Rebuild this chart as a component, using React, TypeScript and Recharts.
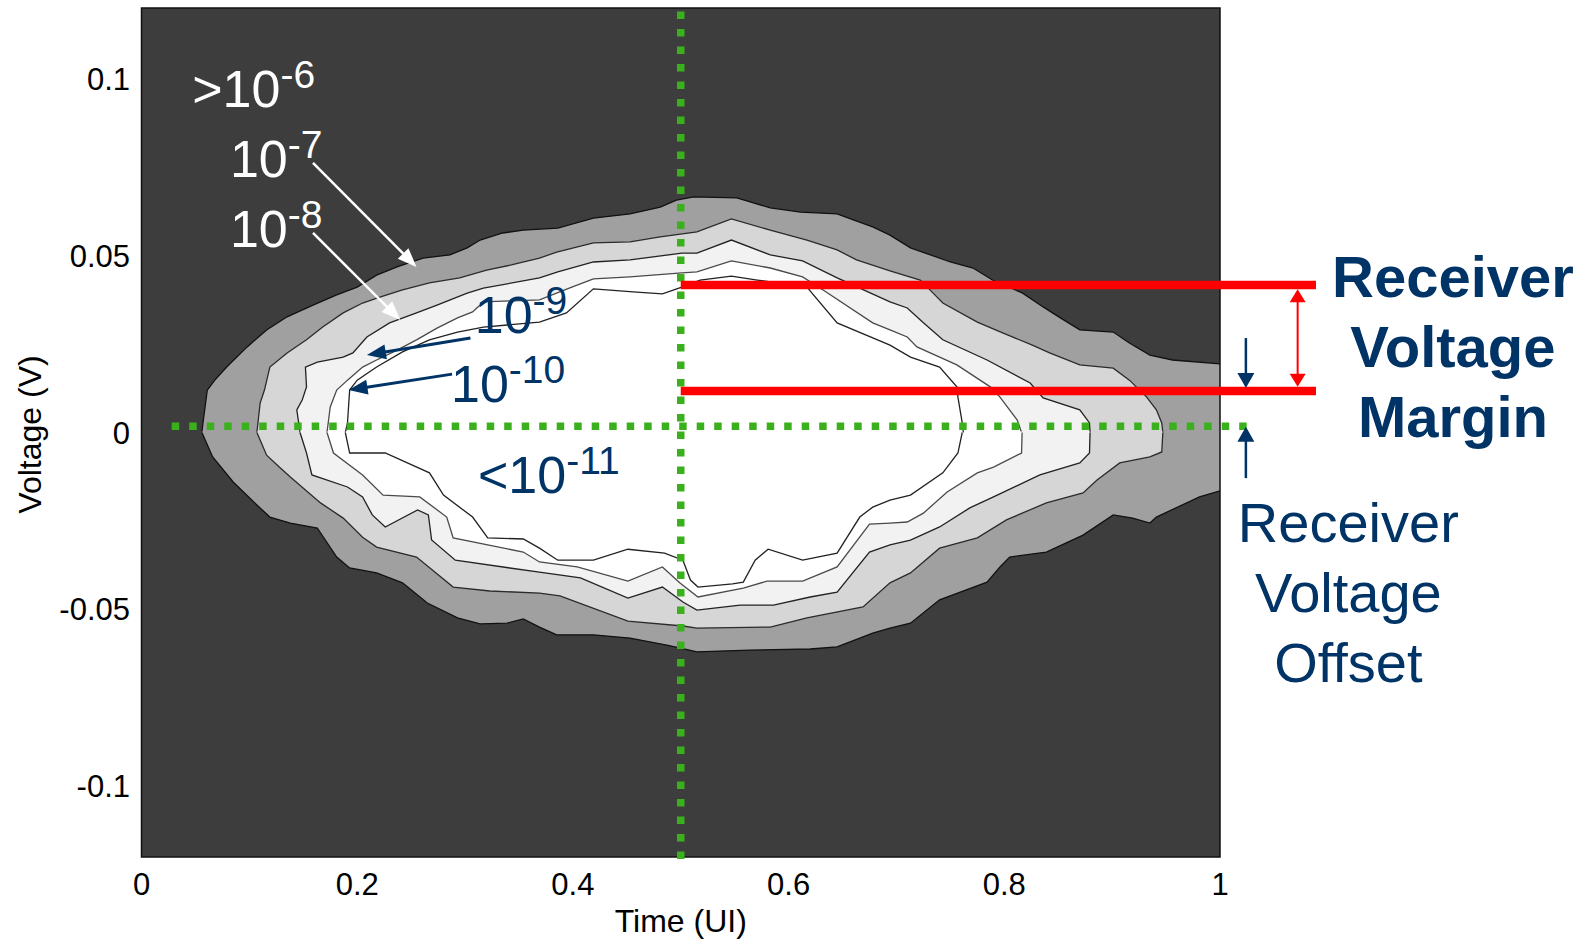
import {
  ComposedChart,
  Area,
  XAxis,
  YAxis,
  CartesianGrid,
  ReferenceArea,
  ReferenceLine,
  ReferenceDot,
} from "recharts"

type Pt = [number, number]

// Bathtub/eye contours, [time (UI), voltage (V)]. Each contour is split into a
// top and a bottom half that meet at 0 V.
const ber6Top: Pt[] = [
  [0.056, 0], [0.057, 0.0027], [0.061, 0.012], [0.068, 0.0148], [0.079, 0.0185],
  [0.098, 0.0242], [0.116, 0.029], [0.135, 0.0327], [0.159, 0.036], [0.181, 0.0389],
  [0.2, 0.0411], [0.218, 0.0445], [0.237, 0.0468], [0.261, 0.0493], [0.286, 0.0502],
  [0.302, 0.0522], [0.314, 0.0544], [0.335, 0.0564], [0.354, 0.0572], [0.386, 0.0578],
  [0.419, 0.0606], [0.453, 0.0618], [0.481, 0.0637], [0.496, 0.0657], [0.512, 0.0666],
  [0.552, 0.0663], [0.583, 0.0635], [0.611, 0.0623], [0.645, 0.0618], [0.66, 0.0601],
  [0.678, 0.0581], [0.694, 0.0558], [0.713, 0.0522], [0.75, 0.0482], [0.771, 0.0465],
  [0.789, 0.0431], [0.817, 0.0394], [0.836, 0.0355], [0.852, 0.0324], [0.87, 0.029],
  [0.901, 0.0284], [0.916, 0.0253], [0.935, 0.0219], [0.956, 0.0205], [1, 0.0194],
]
const ber6Bottom: Pt[] = [
  [0.056, 0], [0.066, -0.0069], [0.085, -0.014], [0.107, -0.0205], [0.119, -0.0239],
  [0.138, -0.0256], [0.163, -0.027], [0.181, -0.0352], [0.193, -0.0383], [0.218, -0.0397],
  [0.242, -0.0425], [0.265, -0.0482], [0.293, -0.0524], [0.314, -0.0541], [0.339, -0.0539],
  [0.354, -0.0527], [0.369, -0.055], [0.385, -0.0572], [0.419, -0.0572], [0.453, -0.0581],
  [0.487, -0.0601], [0.499, -0.0609], [0.515, -0.062], [0.564, -0.0615], [0.62, -0.0612],
  [0.645, -0.0606], [0.678, -0.0567], [0.694, -0.0553], [0.713, -0.0539], [0.74, -0.0473],
  [0.784, -0.0423], [0.796, -0.038], [0.805, -0.0352], [0.839, -0.0338], [0.873, -0.029],
  [0.901, -0.0233], [0.919, -0.0242], [0.935, -0.0256], [0.941, -0.0239], [0.981, -0.0182],
  [1, -0.0165],
]

const ber7Top: Pt[] = [
  [0.107, 0], [0.11, 0.0083], [0.114, 0.012], [0.119, 0.0185], [0.135, 0.0225],
  [0.153, 0.0262], [0.168, 0.0298], [0.187, 0.0338], [0.205, 0.0366], [0.221, 0.0383],
  [0.242, 0.0403], [0.267, 0.0423], [0.295, 0.0437], [0.32, 0.0459], [0.342, 0.0473],
  [0.369, 0.0493], [0.385, 0.051], [0.419, 0.0536], [0.453, 0.0539], [0.481, 0.0553],
  [0.515, 0.0567], [0.547, 0.0604], [0.583, 0.0572], [0.617, 0.0544], [0.645, 0.0516],
  [0.663, 0.0488], [0.694, 0.0457], [0.722, 0.0431], [0.734, 0.0394], [0.743, 0.0366],
  [0.775, 0.0312], [0.799, 0.0281], [0.826, 0.0247], [0.842, 0.0225], [0.87, 0.0191],
  [0.901, 0.0182], [0.916, 0.0148], [0.932, 0.01], [0.941, 0.0064], [0.946, 0.0027],
  [0.947, 0],
]
const ber7Bottom: Pt[] = [
  [0.107, 0], [0.11, -0.0021], [0.116, -0.0064], [0.128, -0.0098], [0.138, -0.0126],
  [0.166, -0.0199], [0.187, -0.0242], [0.205, -0.0296], [0.218, -0.0324], [0.255, -0.0352],
  [0.289, -0.0437], [0.323, -0.0448], [0.369, -0.0454], [0.388, -0.0462], [0.451, -0.0533],
  [0.502, -0.0547], [0.515, -0.0553], [0.583, -0.055], [0.617, -0.0524], [0.669, -0.0493],
  [0.694, -0.0425], [0.713, -0.0397], [0.74, -0.0327], [0.775, -0.0298], [0.802, -0.0247],
  [0.839, -0.0199], [0.873, -0.0171], [0.886, -0.0134], [0.907, -0.0086], [0.935, -0.0069],
  [0.946, -0.0055], [0.947, 0],
]

const ber8Top: Pt[] = [
  [0.147, 0], [0.144, 0.0064], [0.149, 0.0092], [0.153, 0.0129], [0.152, 0.0185],
  [0.163, 0.0199], [0.187, 0.0213], [0.196, 0.0225], [0.209, 0.027], [0.23, 0.031],
  [0.255, 0.0338], [0.274, 0.036], [0.302, 0.0394], [0.317, 0.0408], [0.369, 0.0437],
  [0.386, 0.0454], [0.419, 0.0482], [0.453, 0.0488], [0.501, 0.0507], [0.515, 0.0507],
  [0.547, 0.0544], [0.583, 0.0502], [0.613, 0.0485], [0.645, 0.0437], [0.694, 0.0369],
  [0.71, 0.0352], [0.725, 0.031], [0.743, 0.0262], [0.784, 0.0205], [0.824, 0.014],
  [0.836, 0.0098], [0.87, 0.0064], [0.879, 0.0027], [0.8795, 0],
]
const ber8Bottom: Pt[] = [
  [0.147, 0], [0.153, -0.0058], [0.158, -0.012], [0.191, -0.0154], [0.205, -0.0182],
  [0.214, -0.0233], [0.226, -0.0267], [0.256, -0.0219], [0.266, -0.0233], [0.269, -0.0304],
  [0.291, -0.0361], [0.369, -0.0395], [0.407, -0.0411], [0.451, -0.0468], [0.483, -0.0437],
  [0.502, -0.0479], [0.515, -0.0502], [0.555, -0.0488], [0.586, -0.0488], [0.62, -0.0465],
  [0.645, -0.0451], [0.675, -0.0338], [0.694, -0.0318], [0.713, -0.0304], [0.74, -0.0267],
  [0.768, -0.0213], [0.79, -0.0182], [0.833, -0.012], [0.87, -0.0086], [0.879, -0.0058],
  [0.8795, 0],
]

const ber9Top: Pt[] = [
  [0.172, 0], [0.175, 0.0072], [0.181, 0.012], [0.191, 0.0148], [0.205, 0.0185],
  [0.218, 0.0205], [0.237, 0.0233], [0.255, 0.0262], [0.274, 0.0295], [0.293, 0.0324],
  [0.307, 0.0341], [0.317, 0.0369], [0.369, 0.0375], [0.399, 0.0411], [0.419, 0.0434],
  [0.453, 0.044], [0.501, 0.0451], [0.515, 0.0454], [0.547, 0.0485], [0.583, 0.0465],
  [0.613, 0.044], [0.632, 0.0403], [0.678, 0.031], [0.694, 0.029], [0.71, 0.027],
  [0.719, 0.0242], [0.756, 0.0191], [0.787, 0.0129], [0.796, 0.01], [0.812, 0.0035],
  [0.816, 0],
]
const ber9Bottom: Pt[] = [
  [0.172, 0], [0.178, -0.0058], [0.205, -0.012], [0.224, -0.0177], [0.258, -0.0182],
  [0.283, -0.0239], [0.289, -0.0298], [0.354, -0.0338], [0.369, -0.0366], [0.404, -0.038],
  [0.451, -0.042], [0.483, -0.038], [0.499, -0.0425], [0.516, -0.0465], [0.558, -0.044],
  [0.58, -0.042], [0.613, -0.042], [0.645, -0.038], [0.675, -0.0259], [0.694, -0.0256],
  [0.71, -0.0253], [0.725, -0.0228], [0.747, -0.0168], [0.775, -0.0114], [0.79, -0.0098],
  [0.816, -0.0058], [0.8165, 0],
]

const ber10Top: Pt[] = [
  [0.189, 0], [0.191, 0.0027], [0.193, 0.012], [0.2, 0.0148], [0.218, 0.0185],
  [0.242, 0.0228], [0.267, 0.0262], [0.293, 0.0284], [0.317, 0.0298], [0.369, 0.0312],
  [0.394, 0.0338], [0.419, 0.0406], [0.459, 0.0397], [0.483, 0.0392], [0.501, 0.0411],
  [0.518, 0.0431], [0.547, 0.0442], [0.571, 0.0431], [0.617, 0.0411], [0.645, 0.031],
  [0.694, 0.0247], [0.713, 0.0213], [0.74, 0.0185], [0.756, 0.0129], [0.757, 0.01],
  [0.761, 0.0027], [0.762, 0],
]
const ber10Bottom: Pt[] = [
  [0.189, 0], [0.193, -0.0058], [0.226, -0.0058], [0.267, -0.0114], [0.28, -0.0177],
  [0.307, -0.0239], [0.321, -0.0298], [0.354, -0.0301], [0.369, -0.0327], [0.386, -0.0361],
  [0.419, -0.0361], [0.451, -0.033], [0.485, -0.0341], [0.502, -0.0361], [0.509, -0.0417],
  [0.516, -0.0437], [0.548, -0.0428], [0.558, -0.0423], [0.569, -0.0361], [0.581, -0.033],
  [0.613, -0.0361], [0.645, -0.0341], [0.666, -0.0239], [0.678, -0.0211], [0.694, -0.0191],
  [0.713, -0.0177], [0.743, -0.0114], [0.757, -0.0058], [0.761, 0],
]

const timeTicks = [0, 0.2, 0.4, 0.6, 0.8, 1]
const voltTicks = [-0.1, -0.05, 0, 0.05, 0.1]

// receiver sampling point and thresholds
const samplePhase = 0.5
const offsetLevel = 0.0018
const marginHigh = 0.0417
const marginLow = 0.0117

const FONT = '"Liberation Sans", Arial, Helvetica, sans-serif'
const NAVY = "#003366"
const GREEN = "#3bb01d"
const RED = "#ff0000"

const contours = [
  { top: ber6Top, bottom: ber6Bottom, fill: "#a0a0a0", line: "#111" },
  { top: ber7Top, bottom: ber7Bottom, fill: "#d6d6d6", line: "#2b2b2b" },
  { top: ber8Top, bottom: ber8Bottom, fill: "#f2f2f2", line: "#222" },
  { top: ber9Top, bottom: ber9Bottom, fill: "#ffffff", line: "#4a4a4a" },
  { top: ber10Top, bottom: ber10Bottom, fill: "#ffffff", line: "#222" },
]

const berLabels = [
  { pre: ">", exp: "-6", t: 0.047, v: 0.092, color: "#fff" },
  { pre: "", exp: "-7", t: 0.082, v: 0.0722, color: "#fff" },
  { pre: "", exp: "-8", t: 0.082, v: 0.0523, color: "#fff" },
  { pre: "", exp: "-9", t: 0.309, v: 0.0281, color: NAVY },
  { pre: "", exp: "-10", t: 0.287, v: 0.0086, color: NAVY },
  { pre: "<", exp: "-11", t: 0.312, v: -0.0171, color: NAVY },
]

const pointers = [
  { from: [0.159, 0.0762], to: [0.255, 0.0468], color: "#fff" },
  { from: [0.159, 0.0564], to: [0.24, 0.0318], color: "#fff" },
  { from: [0.305, 0.0267], to: [0.209, 0.0219], color: NAVY },
  { from: [0.288, 0.0165], to: [0.192, 0.012], color: NAVY },
]

const toRows = (pts: Pt[]) => pts.map(([t, v]) => ({ t, v }))

function arrowShape(color: string, width: number, head: number, spread: number, both = false) {
  return (p: any) => {
    const { x1, y1, x2, y2 } = p
    const len = Math.hypot(x2 - x1, y2 - y1) || 1
    const ux = (x2 - x1) / len
    const uy = (y2 - y1) / len
    const nx = -uy
    const ny = ux
    const tri = (tx: number, ty: number, dir: number) => {
      const bx = tx - dir * ux * head
      const by = ty - dir * uy * head
      return `${tx},${ty} ${bx + (nx * spread) / 2},${by + (ny * spread) / 2} ${bx - (nx * spread) / 2},${by - (ny * spread) / 2}`
    }
    const sx = both ? x1 + ux * head * 0.8 : x1
    const sy = both ? y1 + uy * head * 0.8 : y1
    return (
      <g>
        <line
          x1={sx}
          y1={sy}
          x2={x2 - ux * head * 0.8}
          y2={y2 - uy * head * 0.8}
          stroke={color}
          strokeWidth={width}
        />
        <polygon points={tri(x2, y2, 1)} fill={color} />
        {both && <polygon points={tri(x1, y1, -1)} fill={color} />}
      </g>
    )
  }
}

function powerText(pre: string, exp: string, color: string) {
  return (p: any) => (
    <text x={p.cx} y={p.cy} fill={color} fontSize={52} fontFamily={FONT}>
      {pre}10
      <tspan dy={-19} fontSize={39}>
        {exp}
      </tspan>
    </text>
  )
}

function stackedText(lines: string[], size: number, weight: number) {
  return (p: any) => (
    <text
      x={p.cx}
      y={p.cy}
      fill={NAVY}
      fontSize={size}
      fontWeight={weight}
      fontFamily={FONT}
      textAnchor="middle"
    >
      {lines.map((s, i) => (
        <tspan key={s} x={p.cx} dy={i === 0 ? 0 : 70}>
          {s}
        </tspan>
      ))}
    </text>
  )
}

function VoltageTitle(props: any) {
  const vb = props.viewBox
  const cx = vb.x + 30
  const cy = vb.y + vb.height / 2 + 2
  return (
    <text
      x={cx}
      y={cy}
      transform={`rotate(-90 ${cx} ${cy})`}
      textAnchor="middle"
      dominantBaseline="central"
      fontSize={32}
      fill="#000"
      fontFamily={FONT}
    >
      Voltage (V)
    </text>
  )
}

export default function App() {
  return (
    <div
      style={{
        position: "absolute",
        left: 0,
        top: 0,
        width: 1585,
        height: 940,
        background: "#fff",
        fontFamily: FONT,
      }}
    >
      <ComposedChart
        width={1585}
        height={940}
        margin={{ top: 8, right: 365, bottom: 0, left: 0 }}
      >
        <CartesianGrid horizontal={false} vertical={false} fill="#3d3d3d" stroke="none" />
        <XAxis
          dataKey="t"
          type="number"
          domain={[0, 1]}
          ticks={timeTicks}
          allowDataOverflow
          axisLine={false}
          tickLine={false}
          tickSize={0}
          tickMargin={16}
          height={83}
          tick={{ fontSize: 31, fill: "#000" }}
          label={{
            value: "Time (UI)",
            position: "insideBottom",
            offset: 8,
            fontSize: 32,
            fill: "#000",
          }}
        />
        <YAxis
          type="number"
          domain={[-0.12, 0.12]}
          ticks={voltTicks}
          allowDataOverflow
          axisLine={false}
          tickLine={false}
          tickSize={0}
          tickMargin={11.5}
          width={141.5}
          tick={{ fontSize: 31, fill: "#000" }}
          label={VoltageTitle}
        />

        {contours.flatMap((c, i) => [
          <Area
            key={`top-${i}`}
            data={toRows(c.top)}
            dataKey="v"
            type="linear"
            baseValue={-0.0003}
            fill={c.fill}
            fillOpacity={1}
            stroke={c.line}
            strokeWidth={1.3}
            dot={false}
            activeDot={false}
            isAnimationActive={false}
          />,
          <Area
            key={`bottom-${i}`}
            data={toRows(c.bottom)}
            dataKey="v"
            type="linear"
            baseValue={0.0003}
            fill={c.fill}
            fillOpacity={1}
            stroke={c.line}
            strokeWidth={1.3}
            dot={false}
            activeDot={false}
            isAnimationActive={false}
          />,
        ])}

        <ReferenceArea
          x1={0}
          x2={1}
          y1={-0.12}
          y2={0.12}
          fill="none"
          fillOpacity={0}
          stroke="#111"
          strokeWidth={1.5}
          ifOverflow="visible"
        />

        {/* sampling phase and offset reference */}
        <ReferenceLine
          segment={[{ x: samplePhase, y: 0.119 }, { x: samplePhase, y: -0.1223 }]}
          stroke={GREEN}
          strokeWidth={7.5}
          strokeDasharray="7.5 10"
          ifOverflow="visible"
        />
        <ReferenceLine
          segment={[{ x: 0.028, y: offsetLevel }, { x: 1.031, y: offsetLevel }]}
          stroke={GREEN}
          strokeWidth={7.5}
          strokeDasharray="7.5 10"
          ifOverflow="visible"
        />

        {/* voltage margin */}
        <ReferenceLine
          segment={[{ x: samplePhase, y: marginHigh }, { x: 1.089, y: marginHigh }]}
          stroke={RED}
          strokeWidth={8.5}
          ifOverflow="visible"
        />
        <ReferenceLine
          segment={[{ x: samplePhase, y: marginLow }, { x: 1.089, y: marginLow }]}
          stroke={RED}
          strokeWidth={8.5}
          ifOverflow="visible"
        />
        <ReferenceLine
          segment={[{ x: 1.072, y: 0.0405 }, { x: 1.072, y: 0.0129 }]}
          ifOverflow="visible"
          shape={arrowShape(RED, 2, 13, 16, true)}
        />
        <ReferenceLine
          segment={[{ x: 1.024, y: 0.0267 }, { x: 1.024, y: 0.0126 }]}
          ifOverflow="visible"
          shape={arrowShape(NAVY, 2.5, 15, 17)}
        />
        <ReferenceLine
          segment={[{ x: 1.024, y: -0.0129 }, { x: 1.024, y: 0.0016 }]}
          ifOverflow="visible"
          shape={arrowShape(NAVY, 2.5, 15, 17)}
        />

        {pointers.map((a, i) => (
          <ReferenceLine
            key={`ptr-${i}`}
            segment={[{ x: a.from[0], y: a.from[1] }, { x: a.to[0], y: a.to[1] }]}
            ifOverflow="visible"
            shape={arrowShape(a.color, a.color === NAVY ? 3 : 2.5, 19, 15)}
          />
        ))}

        {berLabels.map((l) => (
          <ReferenceDot
            key={l.exp}
            x={l.t}
            y={l.v}
            r={0}
            ifOverflow="visible"
            shape={powerText(l.pre, l.exp, l.color)}
          />
        ))}

        <ReferenceDot
          x={1.216}
          y={0.0383}
          r={0}
          ifOverflow="visible"
          shape={stackedText(["Receiver", "Voltage", "Margin"], 58, 700)}
        />
        <ReferenceDot
          x={1.119}
          y={-0.031}
          r={0}
          ifOverflow="visible"
          shape={stackedText(["Receiver", "Voltage", "Offset"], 56, 400)}
        />
      </ComposedChart>
    </div>
  )
}
